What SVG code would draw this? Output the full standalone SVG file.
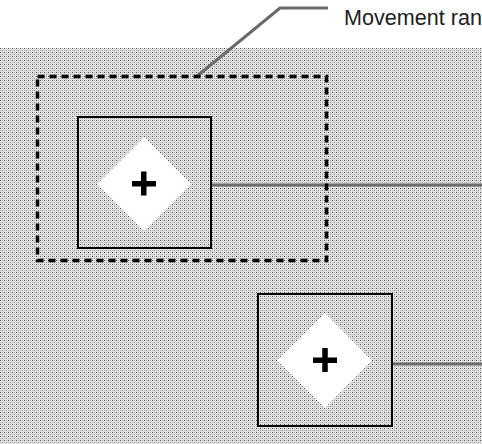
<svg xmlns="http://www.w3.org/2000/svg" width="482" height="444" viewBox="0 0 482 444">
<defs>
<pattern id="dots" width="4" height="4" patternUnits="userSpaceOnUse">
<rect width="4" height="4" fill="#e0e0e0"/>
<rect x="0" y="0" width="1" height="1" fill="#555"/>
<rect x="2" y="2" width="1" height="1" fill="#999"/>
<rect x="2" y="0" width="1" height="1" fill="#b5b5b5"/>
<rect x="0" y="2" width="1" height="1" fill="#b5b5b5"/>
</pattern>
<style>
.box{fill:none;stroke:#000;stroke-width:2}
.dia{fill:#fff}
.plus{fill:#000}
.wire{stroke:#6a6a6a;stroke-width:3;fill:none}
.range{fill:none;stroke:#000;stroke-width:3.5;stroke-dasharray:7 5}
.lbl{font-family:"Liberation Sans",Arial,sans-serif;font-size:21.6px;fill:#222}
</style>
</defs>
<rect x="0" y="0" width="482" height="444" fill="#fff"/>
<rect x="0" y="48" width="482" height="396" fill="url(#dots)"/>
<g id="connectors">
<line class="wire" x1="211" y1="185" x2="482" y2="185"/>
<line class="wire" x1="392" y1="364" x2="482" y2="364"/>
<polyline class="wire" stroke="#8a8a8a" points="196,77 280,8 328,8"/>
</g>
<g id="range">
<rect class="range" x="37.5" y="76.5" width="289" height="184"/>
</g>
<g id="node1">
<rect class="box" x="78" y="117" width="133" height="131"/>
<polygon class="dia" points="144,137 191,184 144,231 97,184"/>
<rect class="plus" x="132" y="181" width="24" height="5.5"/>
<rect class="plus" x="141" y="171.5" width="5.5" height="24"/>
</g>
<g id="node2">
<rect class="box" x="258" y="294" width="134" height="132"/>
<polygon class="dia" points="325,313 372,360.5 325,408 277,360.5"/>
<rect class="plus" x="313" y="357.5" width="24" height="5.5"/>
<rect class="plus" x="322.25" y="348" width="5.5" height="24"/>
</g>
<g id="label">
<text class="lbl" x="344" y="25">Movement ran</text>
</g>
</svg>
